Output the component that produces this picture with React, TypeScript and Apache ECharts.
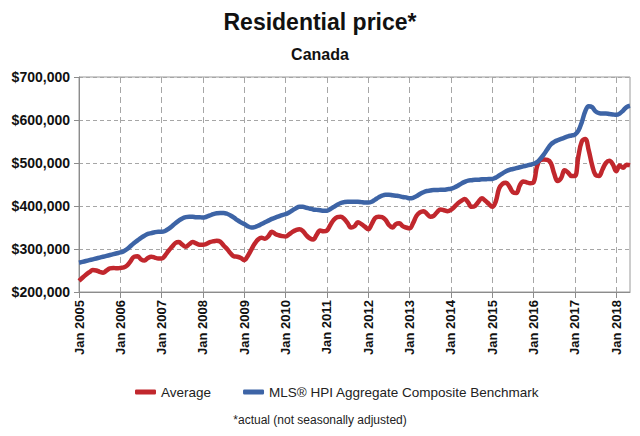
import React, { useEffect, useRef } from "react";
import * as echarts from "echarts";

const years = [2005, 2006, 2007, 2008, 2009, 2010, 2011, 2012, 2013, 2014, 2015, 2016, 2017, 2018];
const monthNames = ["Jan", "Feb", "Mar", "Apr", "May", "Jun", "Jul", "Aug", "Sep", "Oct", "Nov", "Dec"];
const lastYearMonths = 5; // data runs to May 2018

// Values in thousands of dollars, monthly from Jan 2005
const averagePrice = [
  226, 233, 240, 246, 251, 250, 247, 245, 250, 255, 256, 255,
  256, 257, 262, 272, 282, 283, 276, 273, 279, 282, 280, 278,
  278, 285, 296, 305, 314, 316, 310, 305, 311, 316, 313, 310,
  310, 312, 316, 318, 319, 317, 308, 300, 290, 283, 282, 279,
  274, 284, 298, 312, 322, 326, 324, 330, 340, 335, 332, 330,
  329, 334, 340, 344, 346, 342, 332, 325, 322, 333, 343, 341,
  343, 356, 368, 374, 375, 370, 360, 350, 353, 362, 358, 352,
  346, 358, 372, 375, 374, 368, 356, 350, 358, 360, 353, 350,
  348, 360, 377, 385, 388, 382, 375, 377, 386, 392, 390, 388,
  391, 398, 406, 412, 416, 408, 398, 400, 410, 418, 412, 405,
  398, 410, 441, 452, 454, 445, 432, 430, 448, 457, 455, 453,
  455, 492, 507, 508, 507, 500, 475, 458, 465, 483, 478, 470,
  470, 515, 550, 556, 530, 495, 472, 470, 485, 500, 505, 497,
  481, 494, 489, 496, 495,
];

const hpiBenchmark = [
  268, 270, 272, 274, 276, 278, 280, 282, 284, 286, 288, 290,
  292, 295, 300, 307, 314, 320, 326, 331, 335, 337, 339, 340,
  340, 342, 347, 353, 360, 366, 371, 374, 375, 375, 374, 374,
  373, 375, 378, 381, 383, 384, 384, 382, 378, 373, 367, 362,
  358, 353, 350, 351, 354, 358, 362, 366, 370, 373, 376, 379,
  381, 385, 390, 395, 398, 398, 396, 394, 392, 391, 390, 389,
  389, 393, 398, 403, 407, 409, 410, 410, 410, 410, 409, 408,
  408, 410, 415, 420, 424, 426, 426, 425, 424, 423, 421, 420,
  418, 419, 423, 428, 432, 435, 436, 437, 437, 438, 438, 439,
  440, 443, 447, 452, 456, 459, 460, 461, 461, 462, 462, 463,
  463, 466, 471, 476, 481, 484, 486, 488, 490, 492, 494, 496,
  498, 502, 510, 520, 532, 543, 549, 553, 556, 559, 562, 564,
  566, 575, 595, 620, 632, 630, 620, 616, 615, 615, 614, 613,
  612, 615, 622, 630, 633,
];

const yTicks = { min: 200000, max: 700000, interval: 100000 };

const categories: string[] = [];
years.forEach((y, i) => {
  const n = i === years.length - 1 ? lastYearMonths : 12;
  for (let m = 0; m < n; m++) categories.push(monthNames[m] + " " + y);
});

const FONT = "'Liberation Sans', Arial, sans-serif";
const RED = "#C1272D";
const BLUE = "#3D64A6";

export default function App() {
  const ref = useRef<HTMLDivElement>(null);
  useEffect(() => {
    if (!ref.current) return;
    const chart = echarts.init(ref.current, null, { renderer: "svg" });
    const isJan = (idx: number) => idx % 12 === 0;
    chart.setOption({
      animation: false,
      backgroundColor: "#ffffff",
      textStyle: { fontFamily: FONT },
      graphic: [
        {
          type: "text",
          left: "center",
          top: 10,
          style: { text: "Residential price*", font: `bold 23px ${FONT}`, fill: "#111" },
        },
        {
          type: "text",
          left: "center",
          top: 46,
          style: { text: "Canada", font: `bold 16px ${FONT}`, fill: "#111" },
        },
        {
          type: "text",
          left: "center",
          top: 414,
          style: { text: "*actual (not seasonally adjusted)", font: `12px ${FONT}`, fill: "#222" },
        },
      ],
      legend: {
        left: 130,
        top: 380,
        itemWidth: 21,
        itemHeight: 5,
        itemGap: 32,
        icon: "roundRect",
        textStyle: { fontSize: 13.5, color: "#222", fontFamily: FONT },
        data: ["Average", "MLS® HPI Aggregate Composite Benchmark"],
      },
      grid: {
        left: 79,
        right: 10,
        top: 77,
        bottom: 144,
        show: true,
        borderColor: "#9a9a9a",
        borderWidth: 1,
        containLabel: false,
      },
      xAxis: {
        type: "category",
        data: categories,
        boundaryGap: false,
        axisLine: { lineStyle: { color: "#8c8c8c", width: 1 } },
        axisTick: {
          show: true,
          interval: (idx: number) => isJan(idx),
          length: 6,
          lineStyle: { color: "#8c8c8c" },
        },
        axisLabel: {
          interval: (idx: number) => isJan(idx),
          rotate: 90,
          margin: 8,
          fontSize: 13,
          fontWeight: "bold",
          color: "#111",
          fontFamily: FONT,
        },
        splitLine: {
          show: true,
          interval: (idx: number) => isJan(idx),
          lineStyle: { color: "#a6a6a6", type: [6, 4], width: 1 },
        },
      },
      yAxis: {
        type: "value",
        min: yTicks.min,
        max: yTicks.max,
        interval: yTicks.interval,
        axisLine: { show: true, lineStyle: { color: "#8c8c8c", width: 1 } },
        axisTick: { show: true, length: 5, lineStyle: { color: "#8c8c8c" } },
        axisLabel: {
          margin: 9,
          fontSize: 14,
          fontWeight: "bold",
          color: "#111",
          fontFamily: FONT,
          formatter: (v: number) => "$" + v.toLocaleString("en-US"),
        },
        splitLine: { show: true, lineStyle: { color: "#a6a6a6", type: [4, 3], width: 1 } },
      },
      series: [
        {
          name: "Average",
          type: "line",
          data: averagePrice.map((v) => v * 1000),
          smooth: 0.4,
          showSymbol: false,
          symbol: "none",
          lineStyle: { color: RED, width: 4.5 },
          itemStyle: { color: RED },
          z: 3,
        },
        {
          name: "MLS® HPI Aggregate Composite Benchmark",
          type: "line",
          data: hpiBenchmark.map((v) => v * 1000),
          smooth: 0.4,
          showSymbol: false,
          symbol: "none",
          lineStyle: { color: BLUE, width: 4.5 },
          itemStyle: { color: BLUE },
          z: 4,
        },
      ],
    });
    return () => chart.dispose();
  }, []);
  return <div ref={ref} style={{ width: 640, height: 436, position: "absolute", left: 0, top: 0 }} />;
}
